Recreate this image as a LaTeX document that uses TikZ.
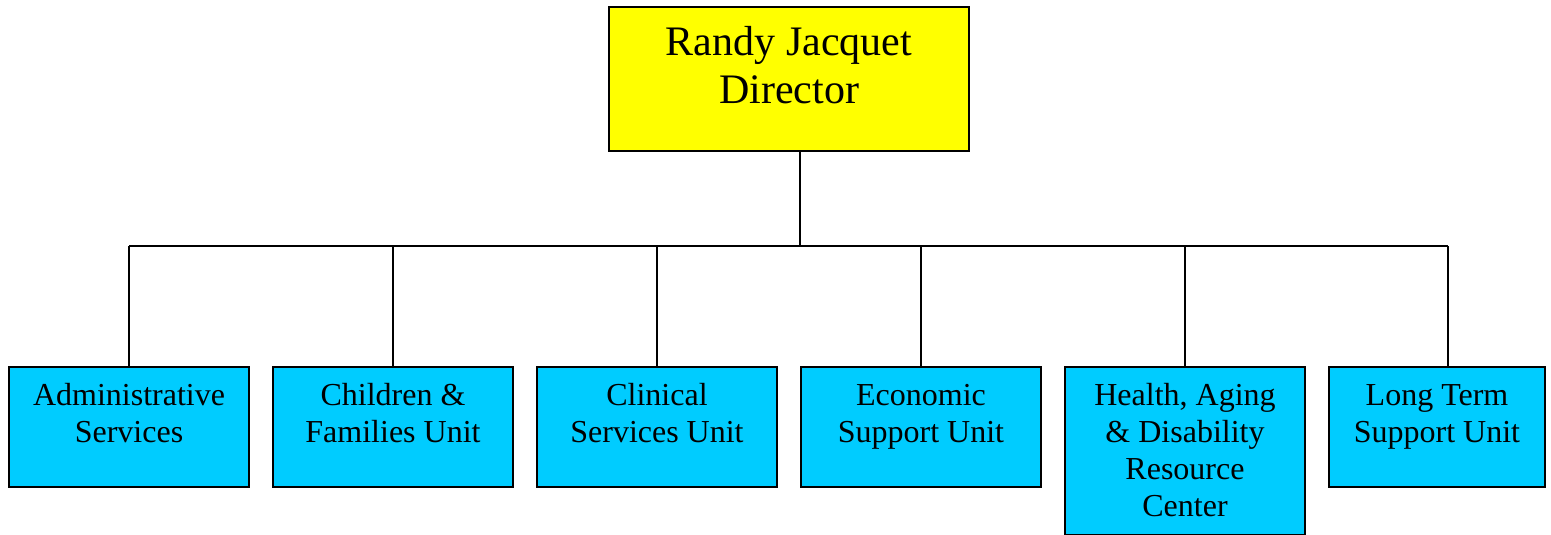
\documentclass[tikz,border=0pt]{standalone}
\usepackage{fontspec}
\setmainfont{Liberation Serif}
\usetikzlibrary{calc}
\definecolor{diryellow}{HTML}{FFFF00}
\definecolor{unitcyan}{HTML}{00CCFF}
\tikzset{
  frame/.style={draw=black, line width=2pt, inner sep=0pt, anchor=north west},
  dirbox/.style={frame, fill=diryellow, minimum width=360pt, minimum height=144pt},
  unitbox/.style={frame, fill=unitcyan, minimum width=240pt, minimum height=120pt},
  dirtext/.style={anchor=base, align=center, inner sep=0pt, font=\fontsize{42}{48}\selectfont},
  unittext/.style={anchor=base, align=center, inner sep=0pt, font=\fontsize{32}{37}\selectfont},
  wire/.style={draw=black, line width=2pt}
}
\begin{document}
\begin{tikzpicture}[x=1pt,y=-1pt]
\useasboundingbox (0,0) rectangle (1551,535);
\node[dirbox] (dir) at (608,6) {};
\node[dirtext] (dirt) at ($(dir.north)+(0,97)$) {Randy Jacquet\\Director};

\node[unitbox] (adm) at (8,366) {};
\node[unitbox] (chi) at (272,366) {};
\node[unitbox] (cli) at (536,366) {};
\node[unitbox] (eco) at (800,366) {};
\node[unitbox, minimum height=168pt] (hea) at (1064,366) {};
\node[unitbox, minimum width=216pt] (lon) at (1328,366) {};

\node[unittext] (admt) at ($(adm.north)+(0,76)$) {Administrative\\Services};
\node[unittext] (chit) at ($(chi.north)+(0,76)$) {Children \&\\Families Unit};
\node[unittext] (clit) at ($(cli.north)+(0,76)$) {Clinical\\Services Unit};
\node[unittext] (ecot) at ($(eco.north)+(0,76)$) {Economic\\Support Unit};
\node[unittext] (heat) at ($(hea.north)+(0,150)$) {Health, Aging\\\& Disability\\Resource\\Center};
\node[unittext] (lont) at ($(lon.north)+(0,76)$) {Long Term\\Support Unit};

\coordinate (bus) at (800,246);
\coordinate (lontop) at (1448,366);
\draw[wire] (dir.south -| bus) -- (bus);
\draw[wire] (adm.north |- bus) -- (lontop |- bus);
\draw[wire] (adm.north) -- (adm.north |- bus);
\draw[wire] (chi.north) -- (chi.north |- bus);
\draw[wire] (cli.north) -- (cli.north |- bus);
\draw[wire] (eco.north) -- (eco.north |- bus);
\draw[wire] (hea.north) -- (hea.north |- bus);
\draw[wire] (lontop) -- (lontop |- bus);
\end{tikzpicture}
\end{document}
